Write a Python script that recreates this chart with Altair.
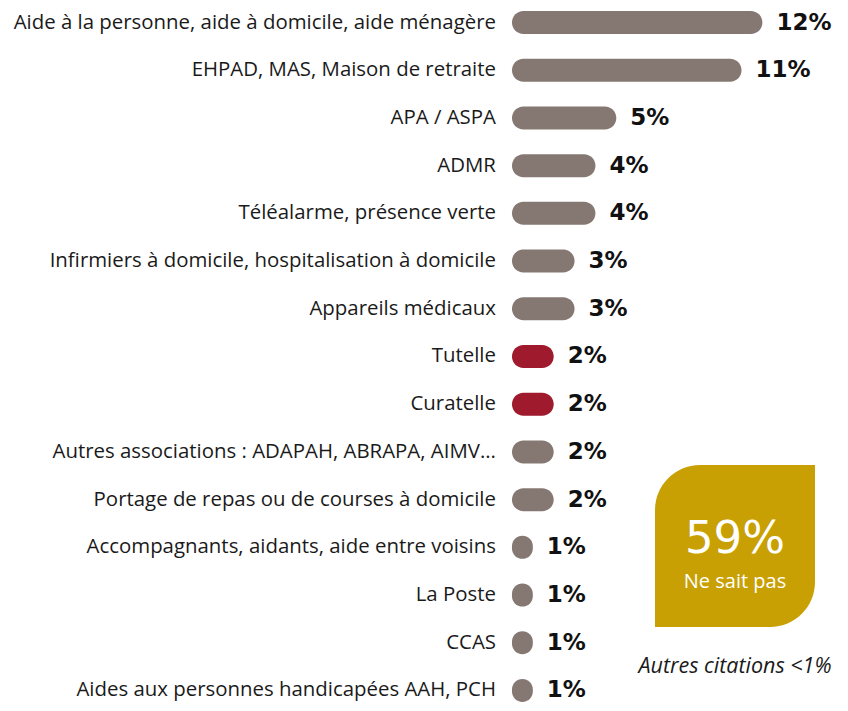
import altair as alt
import pandas as pd

categories = [
    "Aide à la personne, aide à domicile, aide ménagère",
    "EHPAD, MAS, Maison de retraite",
    "APA / ASPA",
    "ADMR",
    "Téléalarme, présence verte",
    "Infirmiers à domicile, hospitalisation à domicile",
    "Appareils médicaux",
    "Tutelle",
    "Curatelle",
    "Autres associations : ADAPAH, ABRAPA, AIMV...",
    "Portage de repas ou de courses à domicile",
    "Accompagnants, aidants, aide entre voisins",
    "La Poste",
    "CCAS",
    "Aides aux personnes handicapées AAH, PCH",
]
values = [12, 11, 5, 4, 4, 3, 3, 2, 2, 2, 2, 1, 1, 1, 1]
highlighted = ["Tutelle", "Curatelle"]

box_value = "59%"
box_label = "Ne sait pas"
note = "Autres citations <1%"

df = pd.DataFrame({
    "cat": categories,
    "value": values,
    "zero": [0] * len(categories),
    "idx": list(range(len(categories))),
    "group": ["hl" if c in highlighted else "base" for c in categories],
    "label": [f"{v}%" for v in values],
})

FONT = "Open Sans"
NUMFONT = "DejaVu Sans"
GRAY = "#857873"
RED = "#9E1A2C"
GOLD = "#C8A004"

H = 695
W = 317
px_per_row = 47.714
d0 = -14.5 / px_per_row
d1 = d0 + H / px_per_row

yenc = alt.Y("idx:Q", scale=alt.Scale(domain=[d0, d1], reverse=True, nice=False, zero=False, padding=0), axis=None)
xscale = alt.Scale(domain=[-0.19, 15], nice=False, zero=False, padding=0)

base = alt.Chart(df).encode(y=yenc)

bars = base.mark_bar(orient="horizontal", size=23, cornerRadius=11.5).encode(
    x=alt.X("value:Q", scale=xscale, axis=None),
    x2="zero:Q",
    color=alt.Color("group:N", scale=alt.Scale(domain=["base", "hl"], range=[GRAY, RED]), legend=None),
)

cat_labels = base.mark_text(align="right", baseline="middle", dx=-16, font=FONT, fontSize=20.4, color="#1a1a1a").encode(
    x=alt.X("zero:Q", scale=xscale, axis=None),
    text="cat:N",
)

val_labels = base.mark_text(
    align="left", baseline="middle", dx=14, font=NUMFONT, fontSize=23, fontWeight="bold", color="#111111"
).encode(
    x=alt.X("value:Q", scale=xscale, axis=None),
    text="label:N",
)

ann = pd.DataFrame({"a": [0]})
box = alt.Chart(ann).mark_rect(color=GOLD, cornerRadiusTopLeft=45, cornerRadiusBottomRight=45).encode(
    x=alt.value(147), x2=alt.value(307), y=alt.value(457), y2=alt.value(619)
)
big = alt.Chart(ann).mark_text(text=box_value, font=NUMFONT, fontSize=45, color="white", align="center", baseline="alphabetic").encode(
    x=alt.value(227), y=alt.value(545)
)
small = alt.Chart(ann).mark_text(text=box_label, font=FONT, fontSize=20, color="white", align="center", baseline="alphabetic").encode(
    x=alt.value(227), y=alt.value(580)
)
note_t = alt.Chart(ann).mark_text(text=note, font=FONT, fontSize=21.5, fontStyle="italic", color="#1a1a1a", align="center", baseline="alphabetic").encode(
    x=alt.value(227), y=alt.value(665)
)

chart = alt.layer(bars, cat_labels, val_labels, box, big, small, note_t).properties(
    width=W, height=H,
    autosize=alt.AutoSizeParams(type="none"),
    padding={"left": 500, "top": 0, "right": 15, "bottom": 0},
    background="white",
).configure_view(stroke=None)

chart.save("out.html", embed_options={"renderer": "svg", "actions": False})
